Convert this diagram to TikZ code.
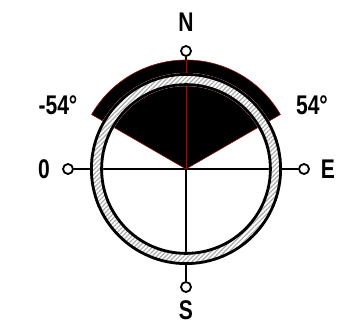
\documentclass[tikz,border=0pt]{standalone}
\usepackage{fontspec}
\setmainfont{Liberation Sans}
\newfontfamily\dialfont[FakeStretch=0.78]{Liberation Sans}
\usetikzlibrary{patterns.meta}
\definecolor{edgered}{RGB}{140,20,20}
\tikzset{
  pin circle/.style={circle, draw=black, line width=1.8pt, fill=white, minimum size=10pt, inner sep=0pt},
  dial label/.style={font=\dialfont\bfseries\fontsize{27}{27}\selectfont, inner sep=0pt},
  cross line/.style={line width=1.8pt},
  ring line/.style={line width=2.8pt},
  wedge fill/.style={fill=black, draw=edgered, line width=0.6pt},
}
\begin{document}
\begin{tikzpicture}[x=1pt, y=1pt]
\useasboundingbox (-186,-158) rectangle (151,169);
\def\rin{83}
\def\rout{96}
\def\rcap{109}
\def\rpin{118}
\coordinate (c) at (0,0);
\coordinate (captop) at (90:\rcap);
% pins on the four axes
\node[pin circle] (north) at (0,\rpin) {};
\node[pin circle] (south) at (0,-\rpin) {};
\node[pin circle] (west) at (-\rpin,0) {};
\node[pin circle] (east) at (\rpin,0) {};
% cross lines
\draw[cross line] (north) -- (south);
\draw[cross line] (west) -- (east);
% shaded sector and outer cap
\filldraw[wedge fill] (c) -- (30:\rin) arc (30:150:\rin) -- cycle;
\filldraw[wedge fill] (30:\rout) arc (30:150:\rout) -- (150:\rcap) arc (150:30:\rcap) -- cycle;
\draw[edgered, line width=0.8pt] (c) -- (captop);
% hatched ring
\fill[white, even odd rule] (c) circle[radius=\rout] (c) circle[radius=\rin];
\fill[pattern={Lines[angle=45, distance=3.2pt, line width=1.2pt]}, pattern color=gray!65, even odd rule] (c) circle[radius=\rout] (c) circle[radius=\rin];
\draw[ring line] (c) circle[radius=\rout-1.4];
\draw[ring line] (c) circle[radius=\rin+1.4];
% labels
\node[dial label] (nlab) at (0,147) {N};
\node[dial label] (slab) at (0,-141) {S};
\node[dial label] (wlab) at (-142,0) {0};
\node[dial label] (elab) at (142,0) {E};
\node[dial label] (leftdeg) at (-128,64) {-54°};
\node[dial label] (rightdeg) at (126,64) {54°};
\end{tikzpicture}
\end{document}
